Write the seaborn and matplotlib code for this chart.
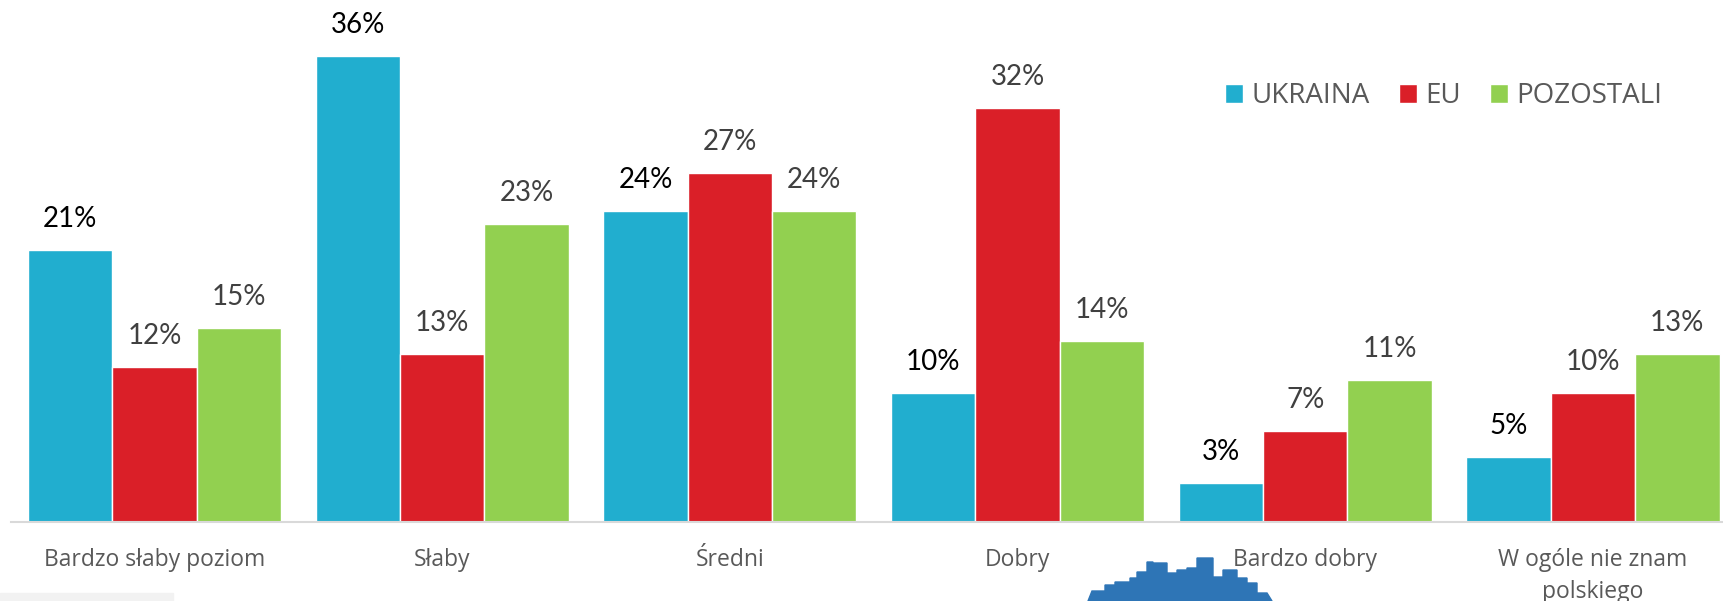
import numpy as np
import pandas as pd
import seaborn as sns
import matplotlib.pyplot as plt
from matplotlib.patches import Rectangle, Polygon

# dane z wykresu
categories = ["Bardzo słaby poziom", "Słaby", "Średni", "Dobry", "Bardzo dobry",
              "W ogóle nie znam\npolskiego"]
groups = ["UKRAINA", "EU", "POZOSTALI"]
ukraina = [21, 36, 24, 10, 3, 5]
eu = [12, 13, 27, 32, 7, 10]
pozostali = [15, 23, 24, 14, 11, 13]

colors = ["#21AECF", "#DA1F28", "#92D050"]
label_colors = ["#000000", "#404040", "#404040"]

df = pd.DataFrame({
    "kategoria": categories * 3,
    "grupa": np.repeat(groups, len(categories)),
    "wartosc": ukraina + eu + pozostali,
})

sns.set_style("white")

W, H = 1723, 601
fig = plt.figure(figsize=(W / 100, H / 100), dpi=100)
ax = fig.add_axes([0, (H - 522) / H, 1, 522 / H])

sns.barplot(data=df, x="kategoria", y="wartosc", hue="grupa", order=categories,
            hue_order=groups, palette=colors, saturation=1, width=0.88, gap=0,
            errorbar=None, ax=ax, legend=True)

for cont, col in zip(ax.containers, label_colors):
    labels = [f"{v:.0f}%" for v in cont.datavalues]
    ax.bar_label(cont, labels=labels, padding=13, fontsize=20, color=col,
                 family="Lato")

ax.set_xlim(-0.537, 5.452)
ax.set_ylim(0, 40.34)
ax.set_xlabel("")
ax.set_ylabel("")
ax.set_yticks([])
for s in ["top", "right", "left"]:
    ax.spines[s].set_visible(False)
ax.spines["bottom"].set_color("#D9D9D9")
ax.spines["bottom"].set_linewidth(1.5)
ax.spines["bottom"].set_bounds(-0.5, 5.452)
ax.tick_params(axis="x", length=0, pad=19, labelsize=16.5, labelcolor="#595959")
for t in ax.get_xticklabels():
    t.set_family("Open Sans")
    t.set_linespacing(1.45)

handles, labs = ax.get_legend_handles_labels()
ax.legend(handles, labs, loc="center", bbox_to_anchor=(1444 / W, 1 - 96 / H),
          bbox_transform=fig.transFigure, ncol=3, frameon=False,
          prop={"family": "Open Sans", "size": 20}, labelcolor="#595959",
          handlelength=0.65, handleheight=0.65, handletextpad=0.3,
          columnspacing=1.05)

# dekoracje ze slajdu (szara ramka i logo)
fig.patches.append(Rectangle((0, 0), 173 / W, 8 / H, transform=fig.transFigure,
                             color="#F2F2F2", zorder=0))
sky_x = [1092, 1105, 1115, 1130, 1137, 1147, 1153, 1167, 1177, 1187, 1197, 1213,
         1223, 1237, 1247, 1257, 1267]
sky_y = [591, 585, 582, 578, 572, 562, 563, 573, 570, 568, 558, 577, 570, 578,
         583, 593, 601]
pts = [(1088, 601)]
for i in range(len(sky_x) - 1):
    pts += [(sky_x[i], sky_y[i]), (sky_x[i + 1], sky_y[i])]
pts += [(1272, 601)]
pts = [(x / W, 1 - y / H) for x, y in pts]
fig.patches.append(Polygon(pts, closed=True, transform=fig.transFigure,
                           color="#2E75B6", zorder=0))

fig.savefig("out.png", dpi=100)
